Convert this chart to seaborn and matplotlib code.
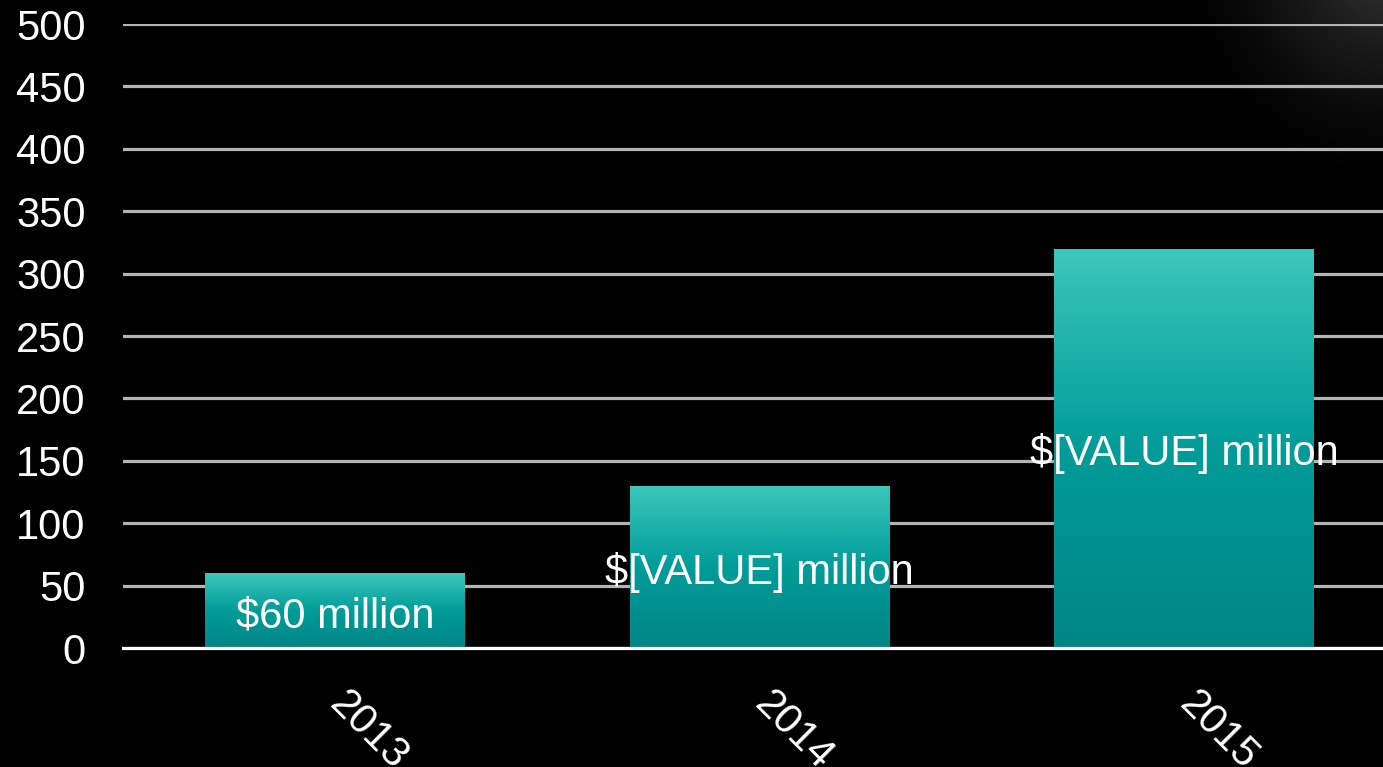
import numpy as np
import pandas as pd
import seaborn as sns
import matplotlib.pyplot as plt
import matplotlib.transforms as mtransforms
from matplotlib.colors import LinearSegmentedColormap

years = ["2013", "2014", "2015"]
values = [60, 130, 320]
bar_labels = ["$60 million", "$[VALUE] million", "$[VALUE] million"]
y_ticks = [0, 50, 100, 150, 200, 250, 300, 350, 400, 450, 500]

sns.set_theme(style="dark")
plt.rcParams["font.family"] = ["Liberation Sans", "DejaVu Sans"]

fig = plt.figure(figsize=(13.83, 7.67), dpi=100, facecolor="black")

# soft glow in the top-right corner of the slide
bg = fig.add_axes([0, 0, 1, 1], zorder=-5)
gx, gy = np.meshgrid(np.arange(1383), np.arange(767))
dist = np.hypot(gx - 1385, gy + 30)
glow = np.clip(1 - dist / 210, 0, 1) ** 1.4 * 0.2
bg.imshow(glow, cmap="gray", vmin=0, vmax=1, aspect="auto",
          extent=(0, 1, 0, 1), origin="upper")
bg.axis("off")

ax = fig.add_axes([123 / 1383, 1 - 648 / 767, 1 - 123 / 1383, 624 / 767])
ax.set_facecolor("none")
ax.patch.set_alpha(0)

df = pd.DataFrame({"year": years, "value": values})
sns.barplot(data=df, x="year", y="value", color="#00999a", width=0.612,
            ax=ax, zorder=3)

# vertical teal gradient inside every bar
grad_cmap = LinearSegmentedColormap.from_list(
    "teal", ["#008585", "#009c99", "#3cc7bb"])
grad = np.linspace(0, 1, 256).reshape(-1, 1)
for bar in ax.patches:
    x0, y0 = bar.get_x(), bar.get_y()
    w, h = bar.get_width(), bar.get_height()
    im = ax.imshow(grad, cmap=grad_cmap, aspect="auto", origin="lower",
                   extent=(x0, x0 + w, y0, y0 + h), zorder=3)
    im.set_clip_path(bar)
    bar.set_facecolor("none")
    bar.set_edgecolor("none")

texts = ax.bar_label(ax.containers[0], labels=bar_labels, label_type="center",
                     color="white", fontsize=30, zorder=5)
for t in texts:
    t.xyann = (0, -4)

ax.set_xlim(-0.5, 2.468)
ax.set_ylim(0, 500)
ax.set_yticks(y_ticks)
ax.yaxis.grid(True, color="#b4b4b4", linewidth=2.3, zorder=0)
ax.xaxis.grid(False)
ax.set_axisbelow(True)
ax.set_xlabel("")
ax.set_ylabel("")
for side in ["top", "right", "left"]:
    ax.spines[side].set_visible(False)
ax.spines["bottom"].set_color("white")
ax.spines["bottom"].set_linewidth(2.3)
ax.spines["bottom"].set_zorder(4)

ax.tick_params(axis="y", length=0, pad=27, labelsize=30, labelcolor="white")
ax.tick_params(axis="x", length=0, pad=26, labelsize=30, labelcolor="white")
shift = mtransforms.ScaledTranslation(0.15, 0, fig.dpi_scale_trans)
for lbl in ax.get_xticklabels():
    lbl.set_rotation(-45)
    lbl.set_ha("left")
    lbl.set_va("top")
    lbl.set_rotation_mode("anchor")
    lbl.set_transform(lbl.get_transform() + shift)

fig.savefig("out.png", dpi=100, facecolor="black")
